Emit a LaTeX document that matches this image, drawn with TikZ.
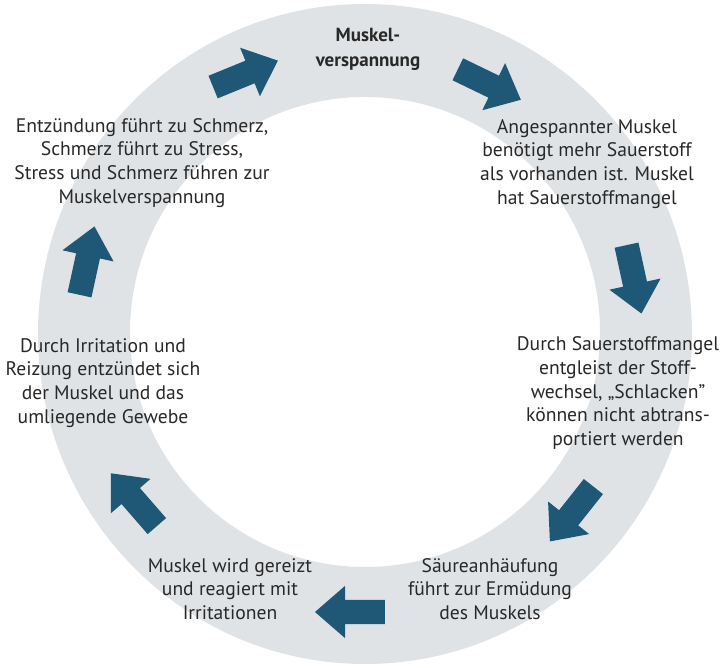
\documentclass[tikz,border=0pt]{standalone}
\usepackage{fontspec}
\setmainfont{PT Sans}
\usetikzlibrary{shapes.arrows}
\definecolor{ringgray}{RGB}{224,227,229}
\definecolor{arrowblue}{RGB}{30,88,118}
\definecolor{txt}{RGB}{40,40,40}
\tikzset{
  blockarrow/.style={single arrow, fill=arrowblue, draw=none, inner sep=0pt,
    minimum height=70pt, single arrow head extend=14pt,
    single arrow tip angle=82},
  steptext/.style={align=center, text=txt, font=\fontsize{19.6}{23.8}\selectfont, inner sep=0pt},
  headtext/.style={align=center, text=txt, font=\bfseries\fontsize{19}{25}\selectfont, inner sep=0pt}
}
\newcommand{\shaft}{\rule{0pt}{24pt}}
\begin{document}
\begin{tikzpicture}[x=1pt,y=1pt]
\useasboundingbox (0,0) rectangle (727,668);
\fill[white] (0,0) rectangle (727,668);
% ring
\fill[ringgray, even odd rule] (365,334) ellipse [x radius=327, y radius=330]
  (365,336) circle [radius=235];
% arrows
\node[blockarrow, rotate=22.2] (a1) at (239,591.5) {\shaft};
\node[blockarrow, rotate=-25.8] (a2) at (483,586.5) {\shaft};
\node[blockarrow, rotate=-77.7] (a3) at (632.5,395.5) {\shaft};
\node[blockarrow, rotate=-128.4] (a4) at (576,159.5) {\shaft};
\node[blockarrow, rotate=180] (a5) at (357,56) {\shaft};
\node[blockarrow, rotate=131] (a6) at (138.5,163) {\shaft};
\node[blockarrow, rotate=77.7] (a7) at (85.5,400.5) {\shaft};
% texts
\node[headtext] (t0) at (368,619) {Muskel-\\verspannung};
\node[steptext] (t1) at (587,504) {Angespannter Muskel\\benötigt mehr Sauerstoff\\als vorhanden ist. Muskel\\hat Sauerstoffmangel};
\node[steptext] (t2) at (618,275) {Durch Sauerstoffmangel\\entgleist der Stoff-\\wechsel, „Schlacken”\\können nicht abtrans-\\portiert werden};
\node[steptext] (t3) at (490,79) {Säureanhäufung\\führt zur Ermüdung\\des Muskels};
\node[steptext] (t4) at (230,79) {Muskel wird gereizt\\und reagiert mit\\Irritationen};
\node[steptext] (t5) at (103,285) {Durch Irritation und\\Reizung entzündet sich\\der Muskel und das\\umliegende Gewebe};
\node[steptext] (t6) at (142,505) {Entzündung führt zu Schmerz,\\Schmerz führt zu Stress,\\Stress und Schmerz führen zur\\Muskelverspannung};
\end{tikzpicture}
\end{document}
